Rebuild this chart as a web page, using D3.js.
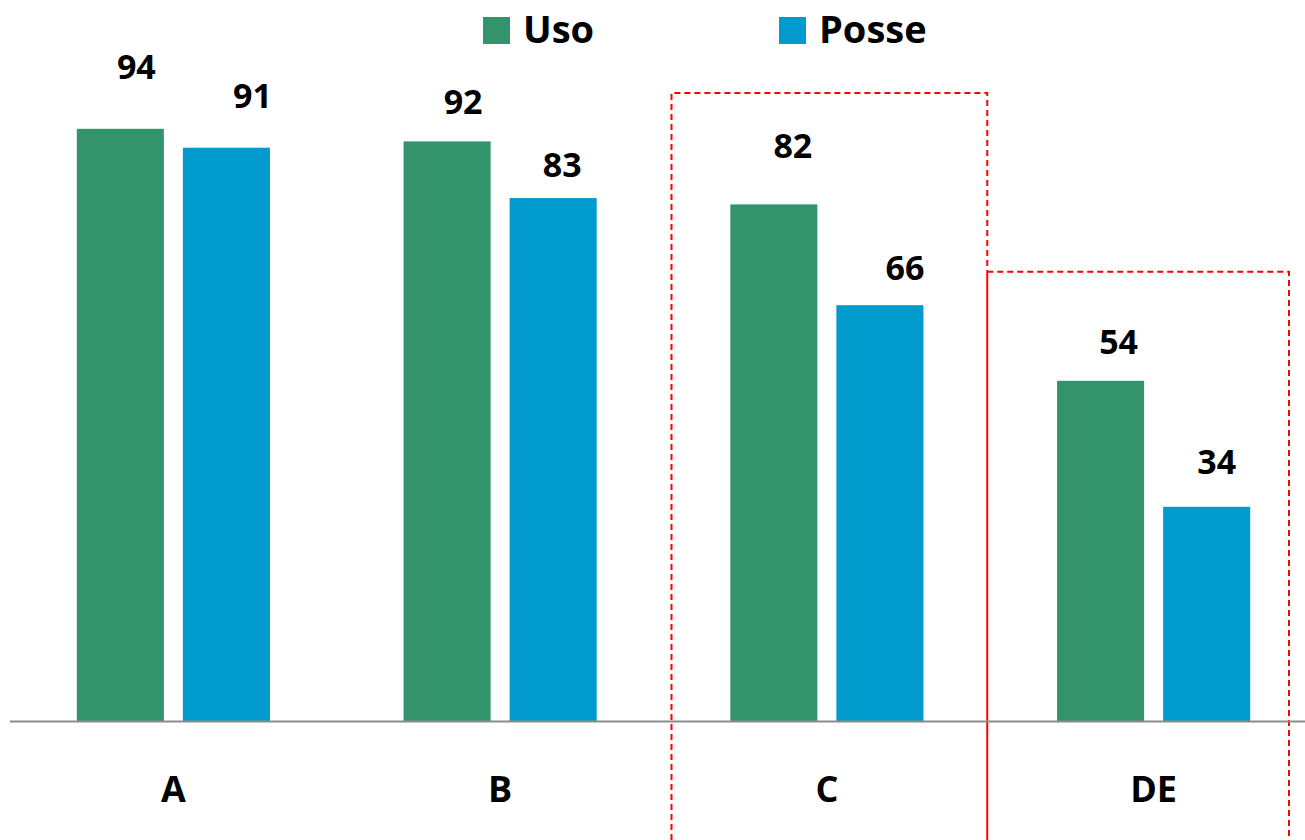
<!DOCTYPE html>
<html>
<head>
<meta charset="utf-8">
<script src="https://cdn.jsdelivr.net/npm/d3@7"></script>
<style>
  html, body { margin: 0; padding: 0; background: #fff; }
  text { font-family: "Open Sans", "Liberation Sans", sans-serif; font-weight: bold; fill: #000; }
</style>
</head>
<body>
<div id="chart"></div>
<script>
// dados
const categorias = ["A", "B", "C", "DE"];
const series = ["Uso", "Posse"];
const uso = [94, 92, 82, 54];
const posse = [91, 83, 66, 34];
const cores = ["#33946B", "#009ACD"];

// ajuste manual dos rótulos (dx, distância acima da barra)
const ajusteRotulo = {
  Uso: [[16, 50], [16, 27], [19, 46], [18, 27]],
  Posse: [[26, 40], [9, 21], [25, 25], [10, 33]],
};

const width = 1305,
  height = 840;

const svg = d3
  .select("#chart")
  .append("svg")
  .attr("width", width)
  .attr("height", height);

const x0 = d3.scaleBand().domain(categorias).range([10, 1317]).padding(0);
const x1 = d3
  .scaleBand()
  .domain(series)
  .range([0, x0.bandwidth()])
  .paddingInner(0.179)
  .paddingOuter(0.63);
const y = d3.scaleLinear().domain([0, 100]).range([721, 91]);

const data = [];
categorias.forEach((c, i) => {
  data.push({ cat: c, serie: "Uso", valor: uso[i], i: i });
  data.push({ cat: c, serie: "Posse", valor: posse[i], i: i });
});
const cor = d3.scaleOrdinal().domain(series).range(cores);

// caixas vermelhas tracejadas
const boxC = { x1: x0("C") + 8, x2: x0("DE") - 3, top: y(99.7) };
const boxDE = { x1: x0("DE") - 3, x2: x0("DE") + x0.bandwidth() - 28, top: y(71.3) };

svg
  .append("path")
  .attr("d", `M${boxC.x1},${height}V${boxC.top}H${boxC.x2}V${boxDE.top}`)
  .attr("fill", "none")
  .attr("stroke", "#FF0000")
  .attr("stroke-width", 2)
  .attr("stroke-dasharray", "6,4");

svg
  .append("path")
  .attr("d", `M${boxDE.x1},${boxDE.top}H${boxDE.x2}V${height}`)
  .attr("fill", "none")
  .attr("stroke", "#FF0000")
  .attr("stroke-width", 2)
  .attr("stroke-dasharray", "6,4");

svg
  .append("line")
  .attr("x1", boxDE.x1)
  .attr("x2", boxDE.x1)
  .attr("y1", boxDE.top)
  .attr("y2", height)
  .attr("stroke", "#FF0000")
  .attr("stroke-width", 2);

// barras
svg
  .selectAll("rect.bar")
  .data(data)
  .enter()
  .append("rect")
  .attr("class", "bar")
  .attr("x", (d) => x0(d.cat) + x1(d.serie))
  .attr("y", (d) => y(d.valor))
  .attr("width", x1.bandwidth())
  .attr("height", (d) => y(0) - y(d.valor))
  .attr("fill", (d) => cor(d.serie));

// eixo
svg
  .append("line")
  .attr("x1", 10)
  .attr("x2", width)
  .attr("y1", y(0) + 0.5)
  .attr("y2", y(0) + 0.5)
  .attr("stroke", "#8C8C8C")
  .attr("stroke-width", 2);

// rótulos de valor
svg
  .selectAll("text.valor")
  .data(data)
  .enter()
  .append("text")
  .attr("class", "valor")
  .attr("x", (d) => x0(d.cat) + x1(d.serie) + x1.bandwidth() / 2 + ajusteRotulo[d.serie][d.i][0])
  .attr("y", (d) => y(d.valor) - ajusteRotulo[d.serie][d.i][1])
  .style("text-anchor", "middle")
  .style("font-size", "34px")
  .text((d) => d.valor);

// categorias
svg
  .selectAll("text.cat")
  .data(categorias)
  .enter()
  .append("text")
  .attr("class", "cat")
  .attr("x", (d) => x0(d) + x0.bandwidth() / 2)
  .attr("y", 802)
  .style("text-anchor", "middle")
  .style("font-size", "36px")
  .text((d) => d);

// legenda
const legendaX = [483, 779];
const legenda = svg
  .selectAll("g.legenda")
  .data(series)
  .enter()
  .append("g")
  .attr("class", "legenda")
  .attr("transform", (d, i) => `translate(${legendaX[i]},17)`);

legenda
  .append("rect")
  .attr("width", 27)
  .attr("height", 27)
  .attr("fill", (d) => cor(d));

legenda
  .append("text")
  .attr("x", 40)
  .attr("y", 26)
  .style("font-size", "38px")
  .text((d) => d);
</script>
</body>
</html>
